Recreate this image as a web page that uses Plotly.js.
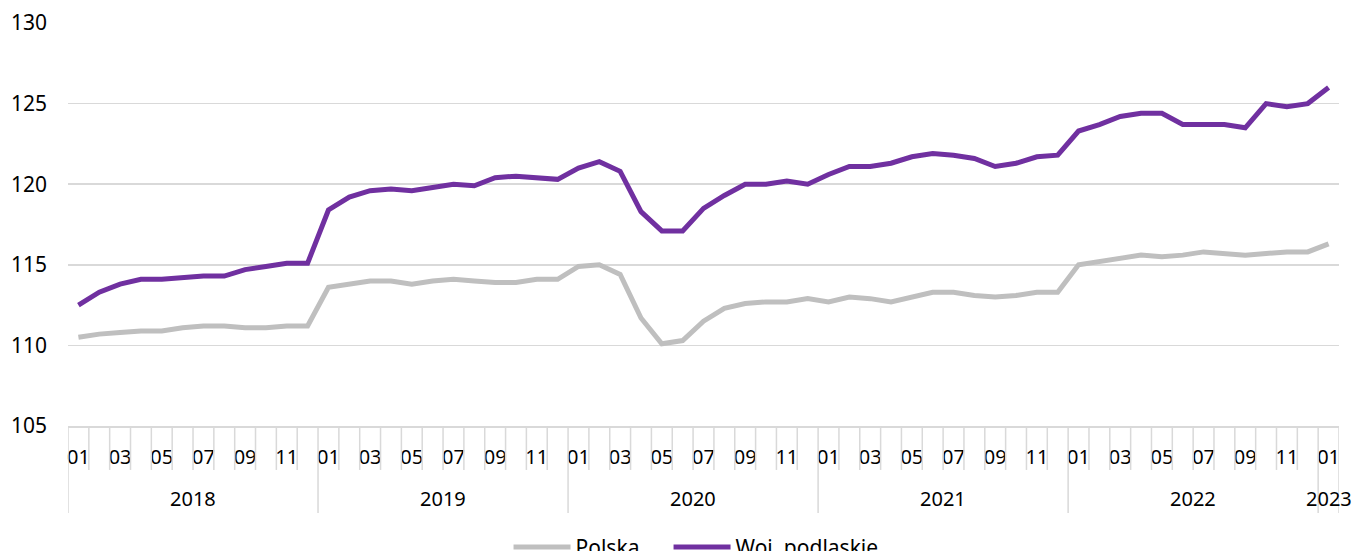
<!DOCTYPE html>
<html><head><meta charset="utf-8">
<script src="https://cdn.plot.ly/plotly-3.0.1.min.js"></script>
<style>html,body{margin:0;padding:0;background:#fff}#chart{width:1354px;height:551px}</style>
</head><body><div id="chart"></div>
<script>
const years = ['2018', '2019', '2020', '2021', '2022', '2023'];
const months = ['01', '02', '03', '04', '05', '06', '07', '08', '09', '10', '11', '12'];
const lastPeriod = '2023-01';

const polska = [
  110.5, 110.7, 110.8, 110.9, 110.9, 111.1, 111.2, 111.2, 111.1, 111.1, 111.2, 111.2,
  113.6, 113.8, 114.0, 114.0, 113.8, 114.0, 114.1, 114.0, 113.9, 113.9, 114.1, 114.1,
  114.9, 115.0, 114.4, 111.7, 110.1, 110.3, 111.5, 112.3, 112.6, 112.7, 112.7, 112.9,
  112.7, 113.0, 112.9, 112.7, 113.0, 113.3, 113.3, 113.1, 113.0, 113.1, 113.3, 113.3,
  115.0, 115.2, 115.4, 115.6, 115.5, 115.6, 115.8, 115.7, 115.6, 115.7, 115.8, 115.8,
  116.3
];
const podlaskie = [
  112.5, 113.3, 113.8, 114.1, 114.1, 114.2, 114.3, 114.3, 114.7, 114.9, 115.1, 115.1,
  118.4, 119.2, 119.6, 119.7, 119.6, 119.8, 120.0, 119.9, 120.4, 120.5, 120.4, 120.3,
  121.0, 121.4, 120.8, 118.3, 117.1, 117.1, 118.5, 119.3, 120.0, 120.0, 120.2, 120.0,
  120.6, 121.1, 121.1, 121.3, 121.7, 121.9, 121.8, 121.6, 121.1, 121.3, 121.7, 121.8,
  123.3, 123.7, 124.2, 124.4, 124.4, 123.7, 123.7, 123.7, 123.5, 125.0, 124.8, 125.0,
  126.0
];
const seriesNames = ['Polska', 'Woj. podlaskie'];
const seriesColors = ['#BFBFBF', '#7030A0'];

// build category list
const periods = [];
const periodYear = [];
const periodMonth = [];
outer:
for (const y of years) {
  for (const m of months) {
    periods.push(y + '-' + m);
    periodYear.push(y);
    periodMonth.push(m);
    if (y + '-' + m === lastPeriod) break outer;
  }
}

// odd months labelled
const tickvals = periods.filter((p, i) => parseInt(periodMonth[i], 10) % 2 === 1);
const ticktext = tickvals.map(p => p.slice(5));

const FONT = 'Noto Sans, Roboto, sans-serif';
const lineCol = '#D9D9D9';

// shapes: month boundary lines and year dividers under the axis
const shapes = [];
const monthDrop = -0.109, yearDrop = -0.216;
for (let i = 0; i <= periods.length; i++) {
  const isYearStart = (i === periods.length) || periodMonth[i] === '01';
  shapes.push({
    type: 'line', xref: 'x', yref: 'paper',
    x0: i - 0.5, x1: i - 0.5, y0: 0, y1: isYearStart ? yearDrop : monthDrop,
    line: {color: lineCol, width: 1.5}
  });
}

// year labels centered under their months
const annotations = years.map(y => {
  const idx = periods.map((p, i) => periodYear[i] === y ? i : -1).filter(i => i >= 0);
  const mid = (idx[0] + idx[idx.length - 1]) / 2;
  return {
    xref: 'x', yref: 'paper', x: mid, y: -0.179, yanchor: 'middle', xanchor: 'center',
    text: y, showarrow: false, font: {family: FONT, size: 20, color: '#000'}
  };
});

const legendIds = ['legend', 'legend2'];
const traces = [polska, podlaskie].map((vals, k) => ({
  type: 'scatter', mode: 'lines', x: periods, y: vals, name: seriesNames[k],
  line: {color: seriesColors[k], width: 5}, legend: legendIds[k]
}));

const legendBase = {
  orientation: 'h', xanchor: 'left', y: -0.301, yanchor: 'middle',
  font: {family: FONT, size: 21, color: '#000'}, itemwidth: 57,
  bgcolor: 'rgba(0,0,0,0)'
};

const layout = {
  width: 1354, height: 551,
  margin: {l: 68, r: 15, t: 23, b: 125, autoexpand: false},
  paper_bgcolor: '#fff', plot_bgcolor: '#fff',
  font: {family: FONT, color: '#000'},
  showlegend: true,
  legend: Object.assign({}, legendBase, {x: 0.3466}),
  legend2: Object.assign({}, legendBase, {x: 0.4725}),
  xaxis: {
    type: 'category', categoryorder: 'array', categoryarray: periods,
    range: [-0.5, periods.length - 0.5], autorange: false,
    tickmode: 'array', tickvals: tickvals, ticktext: ticktext,
    ticks: '', showgrid: false, zeroline: false,
    showline: true, linecolor: lineCol, linewidth: 1.5,
    tickfont: {family: FONT, size: 20, color: '#000'},
    ticklabelstandoff: 12, tickangle: 0
  },
  yaxis: {
    range: [105, 130], dtick: 5, tick0: 105,
    showgrid: true, gridcolor: lineCol, gridwidth: 1.5,
    zeroline: false, showline: false, ticks: '',
    tickfont: {family: FONT, size: 21, color: '#000'},
    ticklabelstandoff: 20
  },
  shapes: shapes,
  annotations: annotations
};

Plotly.newPlot('chart', traces, layout, {displayModeBar: false, staticPlot: true});
</script>
</body></html>
